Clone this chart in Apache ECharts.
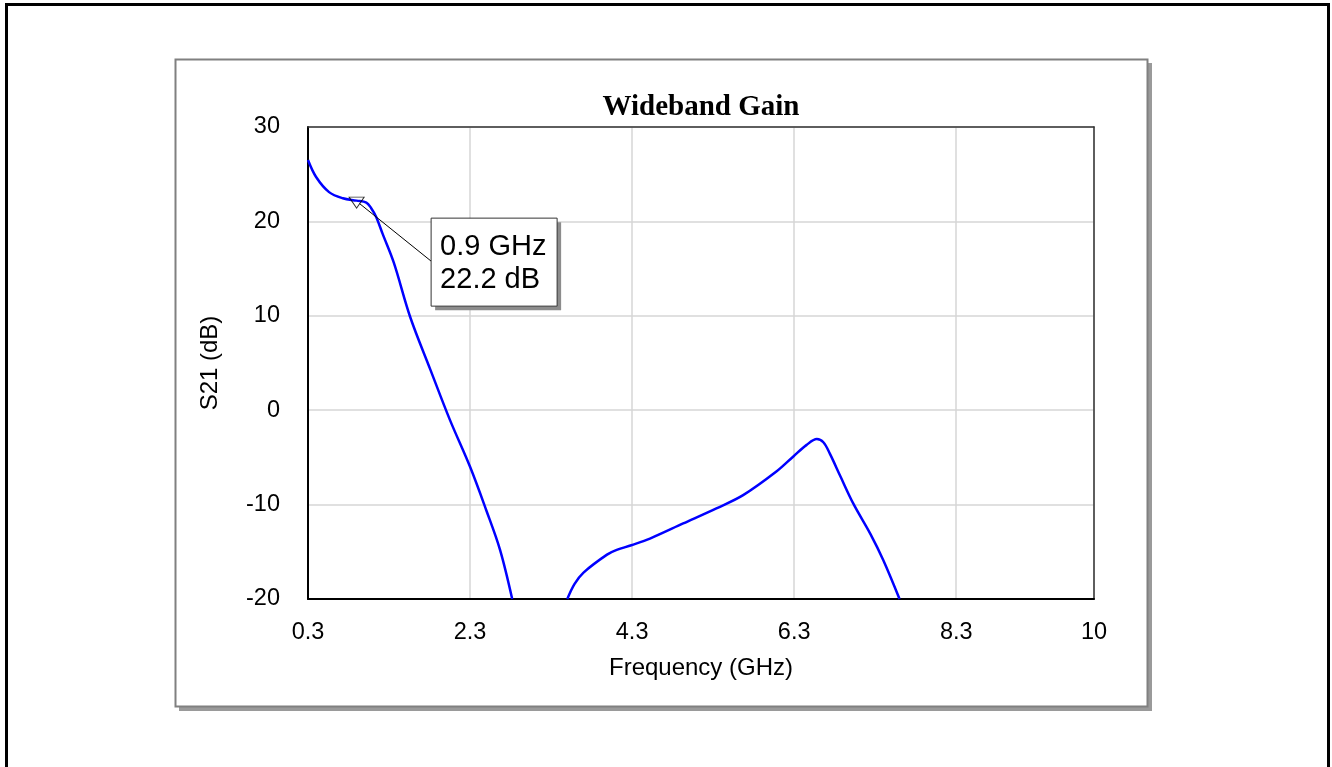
<!DOCTYPE html>
<html>
<head>
<meta charset="utf-8">
<script src="https://cdn.jsdelivr.net/npm/echarts@6/dist/echarts.min.js"></script>
<style>
  html, body { margin: 0; padding: 0; background: #fff; }
  #chart { width: 1332px; height: 767px; }
</style>
</head>
<body>
<div id="chart"></div>
<script>
// ---- data ----
const chartTitle = 'Wideband Gain';
const xAxisName = 'Frequency (GHz)';
const yAxisName = 'S21 (dB)';

// lower band segment (GHz, dB)
const freqA = [0.30, 0.40, 0.56, 0.73, 0.90, 1.02, 1.08, 1.14, 1.22, 1.36, 1.56, 1.81, 2.05, 2.30, 2.50, 2.67, 2.82];
const gainA = [26.5, 24.7, 23.1, 22.45, 22.2, 22.0, 21.4, 20.5, 18.7, 15.6, 9.9, 4.3, -1.0, -6.0, -10.6, -14.8, -20.0];

// upper band segment (GHz, dB)
const freqB = [3.50, 3.59, 3.70, 3.99, 4.11, 4.29, 4.52, 4.93, 5.34, 5.67, 6.08, 6.29, 6.45, 6.58, 6.66, 6.74, 6.87, 7.03, 7.24, 7.40, 7.60];
const gainB = [-20.0, -18.4, -17.2, -15.3, -14.8, -14.3, -13.6, -12.0, -10.4, -9.0, -6.5, -4.9, -3.7, -3.05, -3.4, -4.6, -7.0, -9.9, -13.1, -15.9, -20.0];

// marker
const markerFreq = [0.9];
const markerGain = [22.2];
const markerLines = ['0.9 GHz', '22.2 dB'];

// axes
const xMin = 0.3, xMax = 10, xStep = 2;
const yMin = -20, yMax = 30, yStep = 10;

const FONT = '"Liberation Sans", Arial, sans-serif';

const chart = echarts.init(document.getElementById('chart'), null, { renderer: 'canvas' });

function pairs(xs, ys) { return xs.map((x, i) => [x, ys[i]]); }

const lineStyle = { color: '#0000ff', width: 2.5 };

const frameGraphics = [
  // outer frame
  { type: 'rect', z: -20, silent: true, shape: { x: 6.5, y: 4.5, width: 1322, height: 800 },
    style: { fill: '#fff', stroke: '#000', lineWidth: 3 } },
  // panel shadow
  { type: 'rect', z: -19, silent: true, shape: { x: 179, y: 63, width: 973, height: 648 },
    style: { fill: '#9a9a9a' } },
  // panel
  { type: 'rect', z: -18, silent: true, shape: { x: 175.5, y: 59.5, width: 972, height: 647 },
    style: { fill: '#fff', stroke: '#808080', lineWidth: 2 } }
];

const option = {
  animation: false,
  backgroundColor: '#ffffff',
  title: {
    text: chartTitle,
    left: 696,
    top: 88,
    textAlign: 'center',
    textStyle: { fontFamily: '"Liberation Serif", "Times New Roman", serif', fontWeight: 'bold', fontSize: 29, color: '#000' }
  },
  grid: {
    left: 308, top: 127, right: 238, bottom: 168,
    show: false, containLabel: false
  },
  xAxis: [{
    type: 'value', min: xMin, max: xMax, interval: xStep,
    name: xAxisName, nameLocation: 'middle', nameGap: 57,
    nameTextStyle: { fontFamily: FONT, fontSize: 24, color: '#000' },
    axisLine: { show: true, onZero: false, lineStyle: { color: '#000', width: 2 } },
    axisTick: { show: false },
    axisLabel: {
      margin: 22, fontFamily: FONT, fontSize: 23.5, color: '#000',
      showMinLabel: true, showMaxLabel: true,
      formatter: v => String(Math.round(v * 10) / 10)
    },
    splitLine: { show: true, lineStyle: { color: '#d6d6d6', width: 1.5 } }
  }, {
    type: 'value', min: xMin, max: xMax, position: 'top',
    axisLine: { show: true, onZero: false, lineStyle: { color: '#333', width: 1.5 } },
    axisTick: { show: false }, axisLabel: { show: false }, splitLine: { show: false }
  }],
  yAxis: [{
    type: 'value', min: yMin, max: yMax, interval: yStep,
    name: yAxisName, nameLocation: 'middle', nameGap: 86, nameRotate: 90,
    nameTextStyle: { fontFamily: FONT, fontSize: 24, color: '#000' },
    axisLine: { show: true, onZero: false, lineStyle: { color: '#000', width: 2 } },
    axisTick: { show: false },
    axisLabel: { margin: 28, fontFamily: FONT, fontSize: 23.5, color: '#000' },
    splitLine: { show: true, lineStyle: { color: '#d6d6d6', width: 1.5 } }
  }, {
    type: 'value', min: yMin, max: yMax, position: 'right',
    axisLine: { show: true, onZero: false, lineStyle: { color: '#333', width: 1.5 } },
    axisTick: { show: false }, axisLabel: { show: false }, splitLine: { show: false }
  }],
  series: [
    {
      type: 'line', data: pairs(freqA, gainA), showSymbol: false, symbol: 'none',
      smooth: 0.35, lineStyle: lineStyle, clip: true, z: 3
    },
    {
      type: 'line', data: pairs(freqB, gainB), showSymbol: false, symbol: 'none',
      smooth: 0.35, lineStyle: lineStyle, clip: true, z: 3
    },
    {
      type: 'scatter', data: pairs(markerFreq, markerGain),
      symbol: 'triangle', symbolRotate: 180, symbolSize: [15, 11], symbolOffset: [0, 2],
      itemStyle: { color: 'rgba(255,255,255,0)', borderColor: '#000', borderWidth: 1 },
      z: 5, silent: true
    }
  ],
  graphic: frameGraphics
};

chart.setOption(option);

// annotation anchored on the marker's data position
const p = chart.convertToPixel({ gridIndex: 0 }, [markerFreq[0], markerGain[0]]);
const bx = p[0] + 74.5, by = p[1] + 17.5, bw = 126, bh = 88;
chart.setOption({
  graphic: frameGraphics.concat([
    { type: 'line', z: 50, silent: true,
      shape: { x1: p[0] + 3, y1: p[1] + 3, x2: bx, y2: by + 43 },
      style: { stroke: '#000', lineWidth: 1 } },
    { type: 'rect', z: 51, silent: true, shape: { x: bx + 4, y: by + 4, width: bw, height: bh },
      style: { fill: '#8c8c8c' } },
    { type: 'rect', z: 52, silent: true, shape: { x: bx, y: by, width: bw, height: bh },
      style: { fill: '#fff', stroke: '#333', lineWidth: 1 } },
    { type: 'text', z: 53, silent: true, x: bx + 9, y: by + 29,
      style: { text: markerLines[0], font: '29px ' + FONT, fill: '#000', verticalAlign: 'middle', align: 'left' } },
    { type: 'text', z: 53, silent: true, x: bx + 9, y: by + 62,
      style: { text: markerLines[1], font: '29px ' + FONT, fill: '#000', verticalAlign: 'middle', align: 'left' } }
  ])
});
</script>
</body>
</html>
